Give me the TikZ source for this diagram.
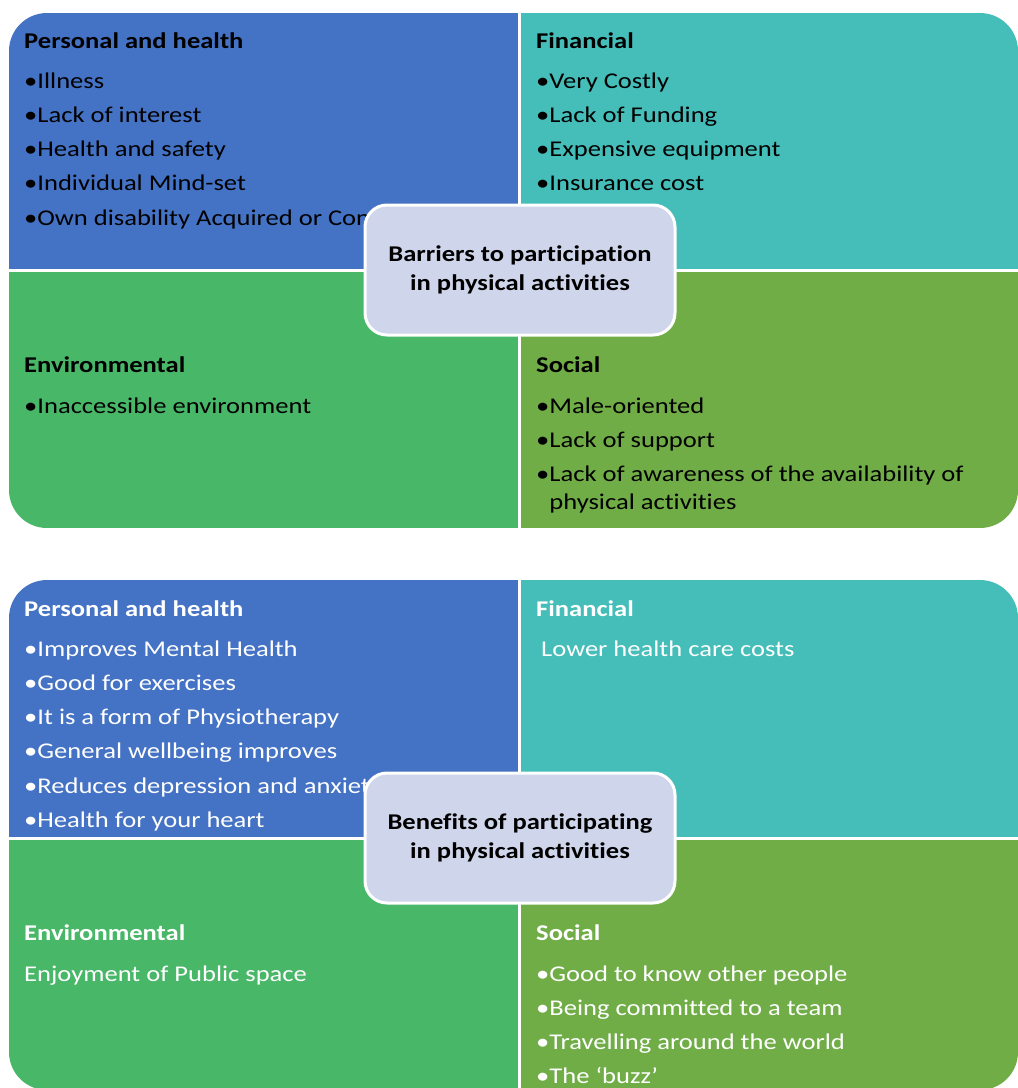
\documentclass[tikz,border=0pt]{standalone}
\usepackage{fontspec}
\setmainfont{Carlito}[FakeStretch=1.18,Ligatures={TeX,NoCommon}]
\usetikzlibrary{positioning}
\definecolor{qblue}{HTML}{4472C4}
\definecolor{qteal}{HTML}{45BDB9}
\definecolor{qgreen}{HTML}{48B768}
\definecolor{qolive}{HTML}{70AD47}
\definecolor{qcentre}{HTML}{CFD5EA}
\tikzset{
  head/.style={anchor=base west,inner sep=0pt,font=\fontsize{22.5}{28}\selectfont\bfseries},
  entry/.style={anchor=base west,inner sep=0pt,font=\fontsize{22.5}{28}\selectfont},
  hub/.style={draw=white,line width=3pt,fill=qcentre,rounded corners=22pt,minimum width=310pt,
    minimum height=130pt,align=center,font=\fontsize{22.5}{29}\selectfont\bfseries},
}
\begin{document}
\begin{tikzpicture}[x=1pt,y=-1pt]
    \useasboundingbox (0,0) rectangle (1018,1088);
    % barriers
    \begin{scope}
      \clip[rounded corners=38pt] (9,13) rectangle (1018,528);
      \fill[qblue] (9,13) rectangle (519.5,270);
      \fill[qteal] (519.5,13) rectangle (1018,270);
      \fill[qgreen] (9,270) rectangle (519.5,528);
      \fill[qolive] (519.5,270) rectangle (1018,528);
      \draw[white,line width=3pt] (519.5,13)--(519.5,528) (9,270)--(1018,270);
    \end{scope}
    \node[head] (bp-h) at (24,48) {Personal and health};
    \foreach \t [count=\i] in {Illness,Lack of interest,Health and safety,Individual Mind-set,Own disability Acquired or Congenital}
      \node[entry] (bp-\i) at (24,{53.7+34.3*\i}) {•\t};
    \node[head] (bf-h) at (536,48) {Financial};
    \foreach \t [count=\i] in {Very Costly,Lack of Funding,Expensive equipment,Insurance cost}
      \node[entry] (bf-\i) at (536,{53.7+34.3*\i}) {•\t};
    \node[head] (be-h) at (24,372) {Environmental};
    \node[entry] (be-1) at (24,413) {•Inaccessible environment};
    \node[head] (bs-h) at (536,372) {Social};
    \foreach \t [count=\i] in {Male-oriented,Lack of support,Lack of awareness of the availability of}
      \node[entry] (bs-\i) at (536,{378.7+34.3*\i}) {•\t};
    \node[entry] (bs-3b) at (536,509.5) {\hphantom{•}physical activities};
    \node[hub] (barriers) at (520,270) {Barriers to participation\\in physical activities};
    % benefits
    \begin{scope}
      \clip[rounded corners=38pt] (9,580) rectangle (1018,1090);
      \fill[qblue] (9,580) rectangle (519.5,838);
      \fill[qteal] (519.5,580) rectangle (1018,838);
      \fill[qgreen] (9,838) rectangle (519.5,1090);
      \fill[qolive] (519.5,838) rectangle (1018,1090);
      \draw[white,line width=3pt] (519.5,580)--(519.5,1090) (9,838)--(1018,838);
    \end{scope}
    \begin{scope}[every node/.append style={text=white}]
      \node[head] (gp-h) at (24,616) {Personal and health};
      \foreach \t [count=\i] in {Improves Mental Health,Good for exercises,It is a form of Physiotherapy,General wellbeing improves,Reduces depression and anxiety,Health for your heart}
        \node[entry] (gp-\i) at (24,{621.7+34.3*\i}) {•\t};
      \node[head] (gf-h) at (536,616) {Financial};
      \node[entry] (gf-1) at (541,656) {Lower health care costs};
      \node[head] (ge-h) at (24,940) {Environmental};
      \node[entry] (ge-1) at (24,981) {Enjoyment of Public space};
      \node[head] (gs-h) at (536,940) {Social};
      \foreach \t [count=\i] in {Good to know other people,Being committed to a team,Travelling around the world,The `buzz'}
        \node[entry] (gs-\i) at (536,{946.7+34.3*\i}) {•\t};
    \end{scope}
    \node[hub] (benefits) at (520,838) {Benefits of participating\\in physical activities};
\end{tikzpicture}
\end{document}
